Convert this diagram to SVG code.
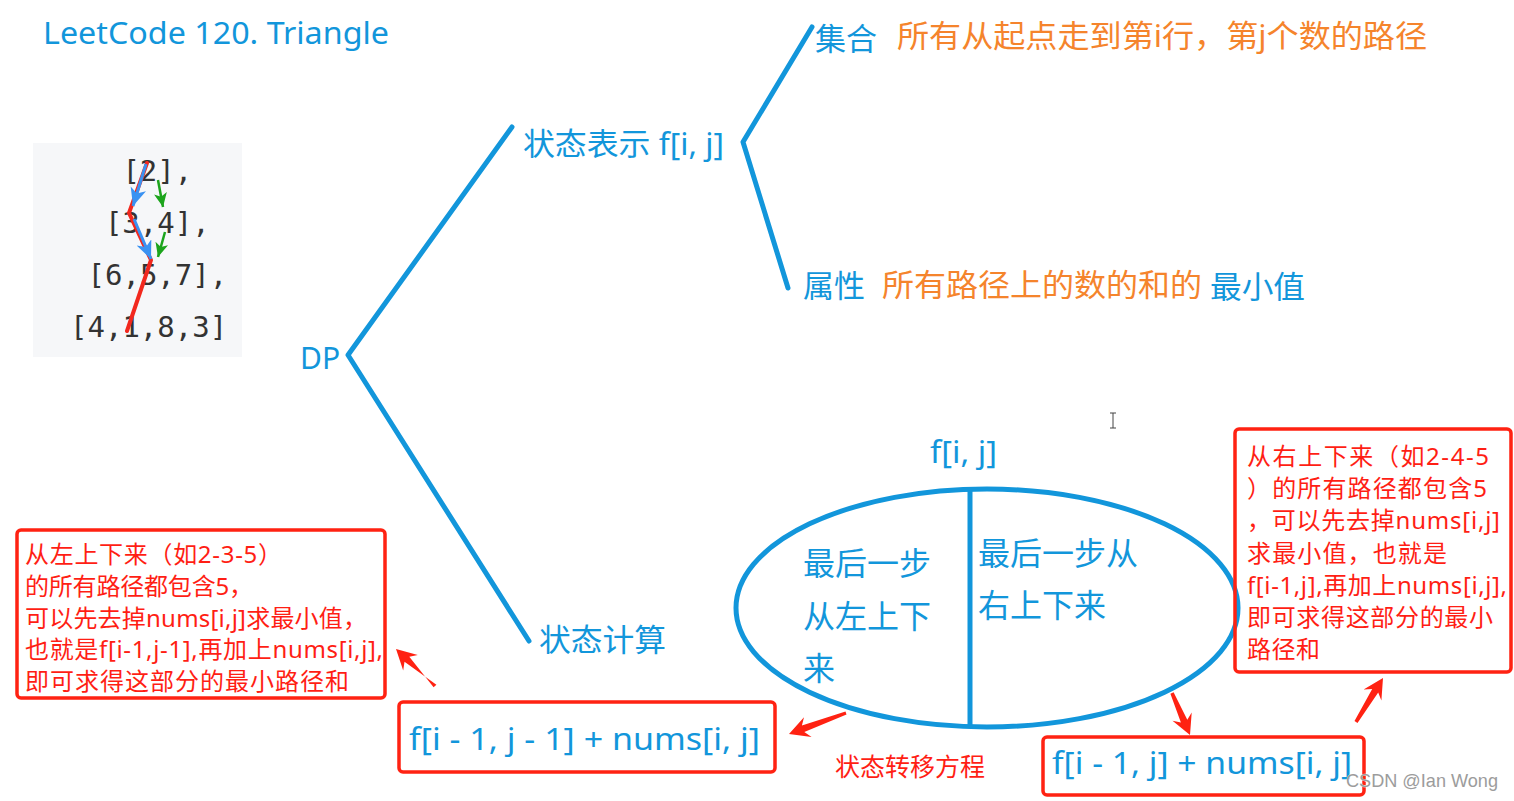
<svg xmlns="http://www.w3.org/2000/svg" width="1514" height="801" viewBox="0 0 1514 801">
<style>
.t{font-family:"Noto Sans","Noto Sans CJK SC",sans-serif}
.b{fill:#1296DB}
.o{fill:#F5842C}
.r{fill:#FF1E14}
.mono{font-family:"DejaVu Sans Mono","Liberation Mono",monospace;font-size:29px;fill:#333}
.fork{fill:none;stroke:#1296DB;stroke-width:5;stroke-linecap:round;stroke-linejoin:round}
.box{fill:none;stroke:#FF2212;stroke-width:3.5}
.arr{fill:#FF2212}
</style>
<defs>
<marker id="hb" markerUnits="userSpaceOnUse" markerWidth="20" markerHeight="18" refX="18" refY="8" orient="auto"><path d="M0,0 L18,8 L0,16 L5,8 z" fill="#3A92F2"/></marker>
<marker id="hg" markerUnits="userSpaceOnUse" markerWidth="16" markerHeight="14" refX="14" refY="6.5" orient="auto"><path d="M0,0 L14,6.5 L0,13 L3.5,6.5 z" fill="#1CA41C"/></marker>
</defs>
<rect width="1514" height="801" fill="#fff"/>

<g id="title"><text class="t b" x="43" y="44" font-size="30" textLength="346" lengthAdjust="spacingAndGlyphs">LeetCode 120. Triangle</text></g>

<g id="triangle">
<rect x="33" y="143" width="209" height="214" fill="#F6F7F9"/>
<text class="mono" x="122.4" y="181">[2],</text>
<text class="mono" x="104.9" y="233">[3,4],</text>
<text class="mono" x="87.5" y="285">[6,5,7],</text>
<text class="mono" x="70" y="337">[4,1,8,3]</text>
<polyline points="147,163 129,213 151,260 127,331" fill="none" stroke="#F2281E" stroke-width="4" stroke-linecap="round" stroke-linejoin="round"/>
<line x1="146" y1="164" x2="133" y2="206" stroke="#3A92F2" stroke-width="3" marker-end="url(#hb)"/>
<line x1="134" y1="219" x2="151" y2="259" stroke="#3A92F2" stroke-width="3" marker-end="url(#hb)"/>
<line x1="158" y1="180" x2="163" y2="207" stroke="#1CA41C" stroke-width="2.5" marker-end="url(#hg)"/>
<line x1="165" y1="232" x2="158" y2="257" stroke="#1CA41C" stroke-width="2.5" marker-end="url(#hg)"/>
</g>

<g id="connectors">
<polyline class="fork" points="512,127 348,355 529,641"/>
<polyline class="fork" points="812,27 743,142 788,288"/>
<polygon class="arr" points="433.6,687.2 409.3,656.8 417.8,655.1 396,649 403.2,670.4 404.5,661.8 436.4,684.8"/>
<polygon class="arr" points="845.5,711.4 801.9,725.5 804,717.2 789,734 811.6,737 804.3,732.1 846.5,714.6"/>
<polygon class="arr" points="1170.4,693.7 1180.9,722.6 1172.5,720.8 1190,735 1191.7,712.5 1187.3,719.8 1173.6,692.3"/>
<polygon class="arr" points="1357.5,722.9 1378.2,692.6 1381.4,700.6 1383,678 1363.6,689.6 1372.2,689 1354.5,721.1"/>
</g>

<g id="dp"><text class="t b" x="300" y="369" font-size="30">DP</text></g>

<g id="state-repr"><text class="t b" x="523" y="155" font-size="31" textLength="201" lengthAdjust="spacingAndGlyphs">状态表示 f[i, j]</text></g>

<g id="set">
<text class="t b" x="815" y="50" font-size="31" textLength="62" lengthAdjust="spacingAndGlyphs">集合</text>
<text class="t o" x="897" y="47" font-size="31" textLength="530" lengthAdjust="spacingAndGlyphs">所有从起点走到第i行，第j个数的路径</text>
</g>

<g id="attr">
<text class="t b" x="803" y="297" font-size="31" textLength="62" lengthAdjust="spacingAndGlyphs">属性</text>
<text class="t o" x="882" y="296" font-size="31" textLength="320" lengthAdjust="spacingAndGlyphs">所有路径上的数的和的</text>
<text class="t b" x="1210" y="298" font-size="31" textLength="95" lengthAdjust="spacingAndGlyphs">最小值</text>
</g>

<g id="state-calc"><text class="t b" x="539" y="651" font-size="31" textLength="127" lengthAdjust="spacingAndGlyphs">状态计算</text></g>

<g id="fij">
<text class="t b" x="930" y="463" font-size="31" textLength="67" lengthAdjust="spacingAndGlyphs">f[i, j]</text>
<ellipse cx="987" cy="608" rx="251" ry="119" fill="none" stroke="#1296DB" stroke-width="5"/>
<line x1="970" y1="489" x2="970" y2="727" stroke="#1296DB" stroke-width="5"/>
<text class="t b" font-size="32">
<tspan x="803" y="575">最后一步</tspan>
<tspan x="803" y="628">从左上下</tspan>
<tspan x="803" y="680">来</tspan>
</text>
<text class="t b" font-size="32">
<tspan x="978" y="565">最后一步从</tspan>
<tspan x="978" y="617">右上下来</tspan>
</text>
</g>

<g id="formula-left">
<rect class="box" x="399" y="702" width="376" height="70" rx="4"/>
<text class="t b" x="409" y="750" font-size="31" textLength="351" lengthAdjust="spacingAndGlyphs">f[i - 1, j - 1] + nums[i, j]</text>
</g>

<g id="formula-right">
<rect class="box" x="1043" y="737" width="321" height="58" rx="4"/>
<text class="t b" x="1052" y="774" font-size="31" textLength="300" lengthAdjust="spacingAndGlyphs">f[i - 1, j] + nums[i, j]</text>
</g>

<g id="label-transfer"><text class="t r" x="835" y="776" font-size="25" textLength="150" lengthAdjust="spacingAndGlyphs">状态转移方程</text></g>

<g id="note-left">
<rect class="box" x="17" y="530" width="368" height="168" rx="4"/>
<text class="t r" font-size="24">
<tspan x="25" y="563" textLength="257">从左上下来（如2-3-5）</tspan>
<tspan x="25" y="595" textLength="228">的所有路径都包含5，</tspan>
<tspan x="25" y="627" textLength="342">可以先去掉nums[i,j]求最小值，</tspan>
<tspan x="25" y="658" textLength="358">也就是f[i-1,j-1],再加上nums[i,j],</tspan>
<tspan x="25" y="690" textLength="324">即可求得这部分的最小路径和</tspan>
</text>
</g>

<g id="note-right">
<rect class="box" x="1235" y="429" width="276" height="243" rx="4"/>
<text class="t r" font-size="24">
<tspan x="1247" y="465" textLength="242">从右上下来（如2-4-5</tspan>
<tspan x="1247" y="497" textLength="240">）的所有路径都包含5</tspan>
<tspan x="1247" y="529" textLength="253">，可以先去掉nums[i,j]</tspan>
<tspan x="1247" y="562" textLength="200">求最小值，也就是</tspan>
<tspan x="1247" y="594" textLength="260">f[i-1,j],再加上nums[i,j],</tspan>
<tspan x="1247" y="626" textLength="246">即可求得这部分的最小</tspan>
<tspan x="1247" y="658" textLength="73">路径和</tspan>
</text>
</g>

<g id="watermark"><text x="1346" y="787" font-family="Liberation Sans, Arial, sans-serif" font-size="19" fill="#9c9c9c" stroke="#fff" stroke-width="0.6" paint-order="stroke" textLength="152" lengthAdjust="spacingAndGlyphs">CSDN @Ian Wong</text></g>

<g id="cursor"><path d="M1110,413 h6 M1113,413 v15 M1110,428 h6" stroke="#444" stroke-width="1" fill="none"/></g>
</svg>
